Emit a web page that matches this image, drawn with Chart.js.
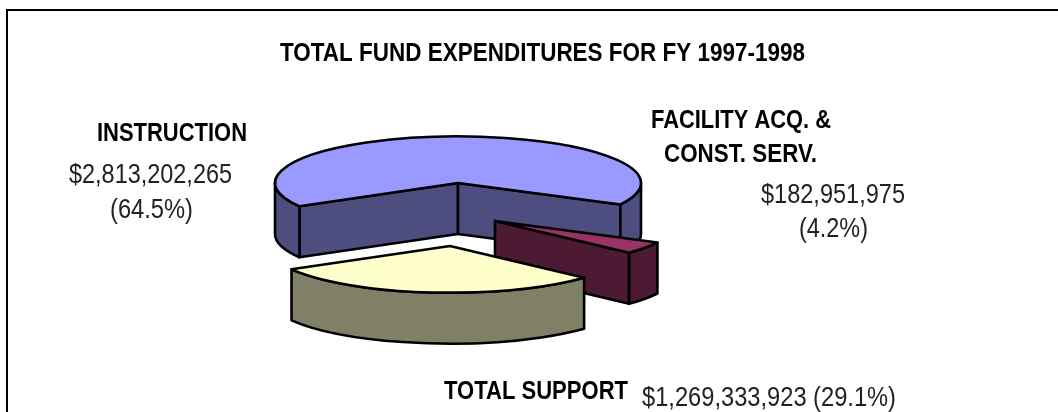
<!DOCTYPE html>
<html>
<head>
<meta charset="utf-8">
<title>Total fund expenditures</title>
<script src="https://cdn.jsdelivr.net/npm/chart.js@4"></script>
<style>
    html, body { margin: 0; padding: 0; background: #fff; overflow: hidden; }
    #wrap { position: relative; width: 1058px; height: 412px; overflow: hidden; }
    #frame { position: absolute; left: 6px; top: 9px; width: 1100px; height: 440px; border: 2px solid #000; }
    #chart { position: absolute; left: 0; top: 0; }
</style>
</head>
<body>
<div id="wrap">
    <div id="frame"></div>
    <canvas id="chart" width="1058" height="412"></canvas>
</div>
<script>
// --- DATA ---
const chartTitle = 'TOTAL FUND EXPENDITURES FOR FY 1997-1998';
const categories = ['INSTRUCTION', 'FACILITY ACQ. & CONST. SERV.', 'TOTAL SUPPORT'];
const amounts = [2813202265, 182951975, 1269333923];
const percents = ['64.5%', '4.2%', '29.1%'];

// --- STYLE ---
const topColors = ['#9999FF', '#993366', '#FFFFCC'];
const sideColors = ['#4D4D80', '#4D1A33', '#808066'];
const tilt = 0.255;     // ellipse height / width
const depth = 51;       // wall height
const explode = [[0, 0], [37, 38], [-8, 63]];   // how far each slice is pulled out

const money = v => '$' + v.toLocaleString('en-US');

// text, left edge, width, baseline, bold
const textLayout = [
    [chartTitle, 280, 525, 61, true],
    [categories[0], 97, 150, 141, true],
    [money(amounts[0]), 69, 163, 183, false],
    ['(' + percents[0] + ')', 110, 83, 218, false],
    ['FACILITY ACQ. &', 651, 180, 128, true],
    ['CONST. SERV.', 664, 153, 162, true],
    [money(amounts[1]), 761, 144, 203, false],
    ['(' + percents[1] + ')', 799, 69, 237, false],
    [categories[2], 444, 184, 399, true],
    [money(amounts[2]) + ' (' + percents[2] + ')', 642, 254, 406, false]
];

function drawWalls(ctx, cx, cy, r, start, end, sideColor) {
    ctx.fillStyle = sideColor;

    // flat cut faces, only the ones turned towards the viewer
    const faces = [];
    if (Math.cos(start) < 0) faces.push(start);
    if (Math.cos(end) > 0) faces.push(end);
    faces.forEach(a => {
        const px = cx + Math.cos(a) * r;
        const py = cy + Math.sin(a) * r * tilt;
        ctx.beginPath();
        ctx.moveTo(cx, cy);
        ctx.lineTo(px, py);
        ctx.lineTo(px, py + depth);
        ctx.lineTo(cx, cy + depth);
        ctx.closePath();
        ctx.fill();
        ctx.stroke();
    });

    // rounded outer wall, front half of the ellipse only
    for (let n = 0; n < 3; n++) {
        const from = Math.max(start, n * 2 * Math.PI);
        const to = Math.min(end, n * 2 * Math.PI + Math.PI);
        if (to <= from) continue;
        ctx.beginPath();
        ctx.ellipse(cx, cy, r, r * tilt, 0, from, to);
        ctx.ellipse(cx, cy + depth, r, r * tilt, 0, to, from, true);
        ctx.closePath();
        ctx.fill();
        ctx.stroke();
    }
}

const pie3d = {
    id: 'pie3d',
    beforeDatasetsDraw(chart) {
        const ctx = chart.ctx;
        chart.getDatasetMeta(0).data.forEach((arc, i) => {
            const cx = arc.x + explode[i][0];
            const cy = arc.y + explode[i][1];
            const r = arc.outerRadius;

            ctx.save();
            ctx.strokeStyle = '#000';
            ctx.lineWidth = 2.6;
            ctx.lineJoin = 'round';
            drawWalls(ctx, cx, cy, r, arc.startAngle, arc.endAngle, sideColors[i]);

            // top of the slice, the library's own arc squashed flat
            ctx.save();
            ctx.translate(cx, cy);
            ctx.scale(1, tilt);
            ctx.translate(-arc.x, -arc.y);
            arc.draw(ctx);
            ctx.restore();

            ctx.beginPath();
            ctx.moveTo(cx, cy);
            ctx.ellipse(cx, cy, r, r * tilt, 0, arc.startAngle, arc.endAngle);
            ctx.closePath();
            ctx.stroke();
            ctx.restore();
        });
        return false;
    },
    afterDraw(chart) {
        const ctx = chart.ctx;
        ctx.save();
        ctx.textAlign = 'left';
        ctx.textBaseline = 'alphabetic';
        textLayout.forEach(([text, x, width, y, bold]) => {
            ctx.font = (bold ? 'bold 26px' : '28px') + ' "Liberation Sans", Arial, sans-serif';
            ctx.fillStyle = bold ? '#000' : '#222';
            ctx.fillText(text, x, y, width);
        });
        ctx.restore();
    }
};

new Chart(document.getElementById('chart'), {
    type: 'pie',
    plugins: [pie3d],
    data: {
        labels: categories,
        datasets: [{
            data: amounts,
            backgroundColor: topColors,
            borderWidth: 0
        }]
    },
    options: {
        responsive: false,
        animation: false,
        rotation: 240,
        radius: 183,
        layout: { padding: { left: 0, right: 142, top: 0, bottom: 46 } },
        plugins: {
            legend: { display: false },
            tooltip: { enabled: false }
        }
    }
});
</script>
</body>
</html>
